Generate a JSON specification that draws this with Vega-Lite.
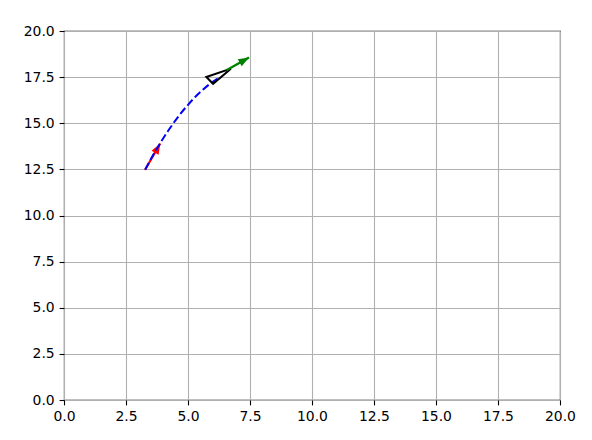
{
  "$schema": "https://vega.github.io/schema/vega-lite/v6.json",
  "width": 496,
  "height": 369,
  "autosize": "none",
  "padding": {"left": 64, "top": 31, "right": 32, "bottom": 40},
  "background": "white",
  "config": {
    "view": {"stroke": "black", "strokeWidth": 1.1},
    "axis": {
      "domain": false,
      "grid": true,
      "gridColor": "#b0b0b0",
      "gridWidth": 1.1,
      "tickColor": "black",
      "tickSize": 4.9,
      "tickWidth": 1.1,
      "labelFont": "DejaVu Sans",
      "labelFontSize": 13.9,
      "labelColor": "black",
      "labelPadding": 4.9,
      "labelFlush": false,
      "labelOverlap": false,
      "title": null
    }
  },
  "datasets": {
    "curve": [
      {"x": 3.27, "y": 12.48},
      {"x": 3.6, "y": 13.29},
      {"x": 3.87, "y": 13.9},
      {"x": 4.2, "y": 14.59},
      {"x": 4.41, "y": 15.0},
      {"x": 4.7, "y": 15.52},
      {"x": 5.0, "y": 16.0},
      {"x": 5.3, "y": 16.44},
      {"x": 5.6, "y": 16.82},
      {"x": 5.9, "y": 17.15},
      {"x": 6.22, "y": 17.44}
    ],
    "red": [
      {"x": 3.27, "y": 12.48, "role": "tail"},
      {"x": 3.88, "y": 13.9, "role": "tip"}
    ],
    "green": [
      {"x": 6.55, "y": 17.87, "role": "tail"},
      {"x": 7.46, "y": 18.56, "role": "tip"}
    ],
    "body": [
      {"x": 6.73, "y": 17.96, "k": 0},
      {"x": 5.74, "y": 17.51, "k": 1},
      {"x": 6.01, "y": 17.14, "k": 2},
      {"x": 6.73, "y": 17.96, "k": 3}
    ]
  },
  "encoding": {
    "x": {
      "field": "x", "type": "quantitative",
      "scale": {"domain": [0, 20], "nice": false, "zero": false},
      "axis": {"values": [0, 2.5, 5, 7.5, 10, 12.5, 15, 17.5, 20], "format": ".1f"}
    },
    "y": {
      "field": "y", "type": "quantitative",
      "scale": {"domain": [0, 20], "nice": false, "zero": false},
      "axis": {"values": [0, 2.5, 5, 7.5, 10, 12.5, 15, 17.5, 20], "format": ".1f"}
    }
  },
  "layer": [
    {
      "data": {"name": "red"},
      "mark": {"type": "line", "color": "#ff0000", "strokeWidth": 2.2}
    },
    {
      "data": {"name": "red"},
      "transform": [{"filter": "datum.role === 'tip'"}],
      "mark": {"type": "point", "filled": true, "color": "#ff0000", "opacity": 1, "size": 450, "angle": 29, "shape": "M0,0L-0.38,1.0L0.38,1.0Z"}
    },
    {
      "data": {"name": "curve"},
      "mark": {"type": "line", "color": "#0000ff", "strokeWidth": 2, "strokeDash": [7.7, 3.3], "interpolate": "monotone"}
    },
    {
      "data": {"name": "body"},
      "mark": {"type": "line", "color": "black", "strokeWidth": 2, "strokeJoin": "miter"},
      "encoding": {"order": {"field": "k", "type": "quantitative"}}
    },
    {
      "data": {"name": "green"},
      "mark": {"type": "line", "color": "#008000", "strokeWidth": 2.2}
    },
    {
      "data": {"name": "green"},
      "transform": [{"filter": "datum.role === 'tip'"}],
      "mark": {"type": "point", "filled": true, "color": "#008000", "opacity": 1, "size": 450, "angle": 61, "shape": "M0,0L-0.38,1.0L0.38,1.0Z"}
    }
  ]
}
